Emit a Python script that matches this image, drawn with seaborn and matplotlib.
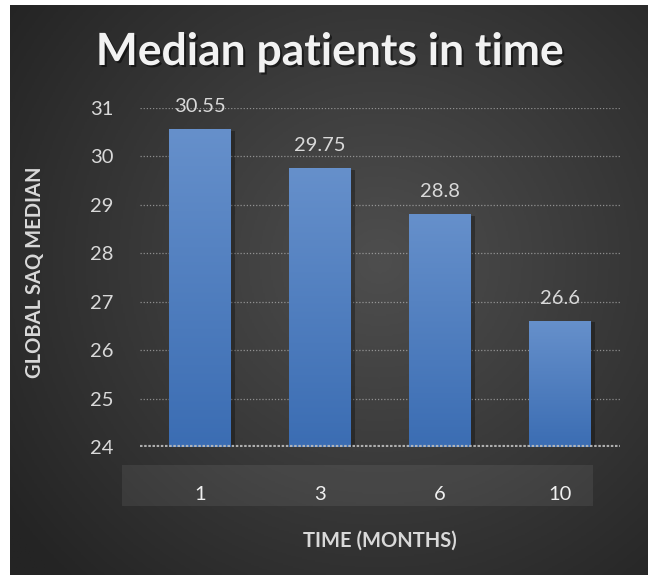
import numpy as np
import pandas as pd
import matplotlib
matplotlib.use("Agg")
import matplotlib.pyplot as plt
import matplotlib.patheffects as pe
from matplotlib.patches import Rectangle
from matplotlib.colors import LinearSegmentedColormap
import seaborn as sns

# Data
months = ["1", "3", "6", "10"]
medians = [30.55, 29.75, 28.8, 26.6]
value_labels = ["30.55", "29.75", "28.8", "26.6"]
y_ticks = [24, 25, 26, 27, 28, 29, 30, 31]

title = "Median patients in time"
x_title = "TIME (MONTHS)"
y_title = "GLOBAL SAQ MEDIAN"

sns.set_theme(style="white")
plt.rcParams["font.family"] = ["Lato", "DejaVu Sans"]

W, H = 648, 575
fig = plt.figure(figsize=(W / 100, H / 100), dpi=100, facecolor="white")

# Dark panel with radial shading
bg = fig.add_axes([10 / W, 0, 638 / W, 570 / H], zorder=0)
gx, gy = np.meshgrid(np.linspace(0, 1, 400), np.linspace(0, 1, 400))
r = np.sqrt(((gx - 0.58) / 0.72) ** 2 + ((gy - 0.45) / 0.78) ** 2)
shade = np.clip(1 - r, 0, 1)
bg_cmap = LinearSegmentedColormap.from_list("panel", ["#242424", "#4e4e4e"])
bg.imshow(shade, cmap=bg_cmap, extent=[0, 1, 0, 1], aspect="auto", origin="upper", vmin=0, vmax=1)
bg.set_axis_off()

# Band behind the category labels
fig.patches.append(Rectangle((122 / W, (H - 506) / H), 471 / W, 41 / H,
                             transform=fig.transFigure, facecolor="white",
                             alpha=0.07, edgecolor="none", zorder=1))

ax = fig.add_axes([140 / W, (H - 447) / H, 480 / W, 339 / H], zorder=2)
ax.patch.set_alpha(0)

df = pd.DataFrame({"month": months, "median": medians})
sns.barplot(data=df, x="month", y="median", order=months, width=0.51,
            color="#4a7cc0", saturation=1, edgecolor="none", linewidth=0,
            ax=ax, zorder=3)

Y0, Y1 = 24, 31
ax.set_ylim(Y0, Y1)
ax.set_xlim(-0.5, 3.5)
ax.set_yticks(y_ticks)

# Gridlines
for v in y_ticks[1:]:
    ax.axhline(v, color="#c8c8c8", lw=0.9, ls=(0, (1, 1.5)), alpha=0.6, zorder=1)
ax.axhline(Y0, color="#bdbdbd", lw=3, ls=(0, (0.6, 0.4)), alpha=0.9, zorder=6)

# Vertical gradient fill on each bar
bar_cmap = LinearSegmentedColormap.from_list("bar", ["#3b6db3", "#6690cb"])
grad = np.linspace(0, 1, 256).reshape(-1, 1)
for patch, lab in zip(ax.patches, value_labels):
    x0, w = patch.get_x(), patch.get_width()
    top = patch.get_y() + patch.get_height()
    patch.set_clip_on(True)
    patch.set_path_effects([pe.SimplePatchShadow(offset=(3, -1), alpha=0.3, shadow_rgbFace="black"),
                            pe.Normal()])
    ax.imshow(grad, cmap=bar_cmap, origin="lower", aspect="auto",
              extent=[x0, x0 + w, Y0, top], zorder=4)
    ax.text(x0 + w / 2, top + 0.3, lab, ha="center", va="bottom",
            color="#d9d9d9", fontsize=14.5)

ax.set_xlim(-0.5, 3.5)
ax.set_ylim(Y0, Y1)

sns.despine(ax=ax, left=True, bottom=True)
ax.tick_params(axis="x", length=0, pad=28, labelsize=14.5, labelcolor="#f0f0f0")
ax.tick_params(axis="y", length=0, pad=19, labelsize=14.5, labelcolor="#d9d9d9")
ax.set_xlabel("")
ax.set_ylabel("")

fig.text(380 / W, 1 - 541 / H, x_title, ha="center", va="center",
         fontsize=14.5, fontweight="bold", color="#d9d9d9")
fig.text(35 / W, 1 - 272 / H, y_title, ha="center", va="center", rotation=90,
         fontsize=14.5, fontweight="bold", color="#d9d9d9")
fig.text(330 / W, 1 - 52 / H, title, ha="center", va="center",
         fontsize=32, fontweight="bold", color="#f2f2f2",
         path_effects=[pe.withSimplePatchShadow(offset=(1.5, -1.5), alpha=0.5, shadow_rgbFace="black")])

fig.savefig("out.png", dpi=100, facecolor="white")
